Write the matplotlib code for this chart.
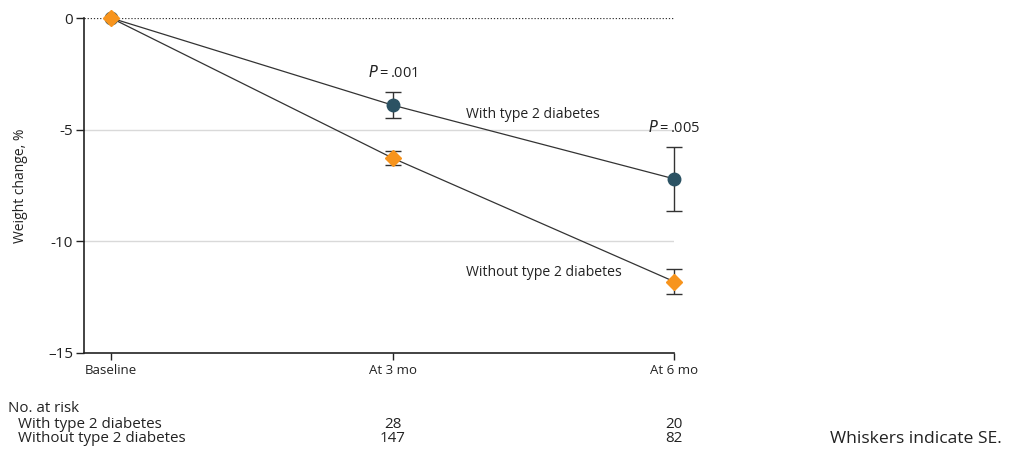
import matplotlib
matplotlib.use("Agg")
import matplotlib.pyplot as plt

plt.rcParams['font.family'] = ['Open Sans', 'DejaVu Sans']

timepoints = ["Baseline", "At 3 mo", "At 6 mo"]
with_t2d_mean = [0.0, -3.9, -7.2]
with_t2d_se = [0.0, 0.58, 1.43]
without_t2d_mean = [0.0, -6.27, -11.8]
without_t2d_se = [0.0, 0.31, 0.56]
p_labels = ["", ".001", ".005"]
risk_with = ["", "28", "20"]
risk_without = ["", "147", "82"]
ytick_vals = [0, -5, -10, -15]
ytick_labels = ["0", "-5", "-10", "\u201315"]

W, H = 1011, 453
fig = plt.figure(figsize=(W / 100, H / 100), dpi=100)
ax = fig.add_axes([84 / W, 1 - 353 / H, (674 - 84) / W, (353 - 18) / H])

x = list(range(len(timepoints)))
teal = "#2b5263"
orange = "#f7941d"
ink = "#333333"
txt = "#222222"

for v in [-5, -10]:
    ax.axhline(v, color="#d9d9d9", lw=1, zorder=0)
ax.axhline(0, color=ink, lw=0.9, ls=(0, (1, 1.5)), zorder=0)

ax.plot(x, with_t2d_mean, color=ink, lw=0.9, zorder=2, clip_on=False)
ax.plot(x, without_t2d_mean, color=ink, lw=0.9, zorder=2, clip_on=False)
for m, s in ((with_t2d_mean, with_t2d_se), (without_t2d_mean, without_t2d_se)):
    eb = ax.errorbar(x[1:], m[1:], yerr=s[1:], fmt="none",
                     ecolor=ink, elinewidth=1, capsize=6, capthick=1, zorder=3)
    for art in eb.lines[1] + eb.lines[2]:
        art.set_clip_on(False)
ax.plot(x, with_t2d_mean, "o", color=teal, ms=9, mec=teal, zorder=4, ls="none",
        clip_on=False)
ax.plot(x, without_t2d_mean, "D", color=orange, ms=8, mec=orange, zorder=5, ls="none",
        clip_on=False)

ax.set_xlim(-0.096, 2.0)
ax.set_ylim(-15, 0)
ax.set_xticks(x)
ax.set_xticklabels(timepoints, fontsize=9.5, color=txt)
ax.set_yticks(ytick_vals)
ax.set_yticklabels(ytick_labels, fontsize=11, color=txt)
ax.tick_params(axis="x", length=5, width=1, color=txt, pad=3)
ax.tick_params(axis="y", length=6, width=1, color=txt, pad=2)
for s in ["top", "right"]:
    ax.spines[s].set_visible(False)
for s in ["left", "bottom"]:
    ax.spines[s].set_color(txt)
    ax.spines[s].set_linewidth(1.2)
ax.set_ylabel("Weight change, %", fontsize=10, color=txt, labelpad=14)
ax.patch.set_alpha(0)

for i in (1, 2):
    yv = with_t2d_mean[i] + with_t2d_se[i]
    ax.annotate("$P$" + "\u2009=\u2009" + p_labels[i], (x[i], yv), xytext=(0, 8),
                textcoords="offset points", ha="center", va="bottom",
                fontsize=10.5, color=txt, annotation_clip=False)

ax.text(1.26, -4.3, "With type 2 diabetes", fontsize=10.1, color=txt,
        ha="left", va="center")
ax.text(1.26, -11.4, "Without type 2 diabetes", fontsize=10.1, color=txt,
        ha="left", va="center")

def fx(xd):
    return ax.transData.transform((xd, 0))[0] / W

fs_tab = 10.9
fig.text(8 / W, 1 - 408 / H, "No. at risk", fontsize=fs_tab, color=txt, va="center")
fig.text(18 / W, 1 - 424 / H, "With type 2 diabetes", fontsize=fs_tab, color=txt, va="center")
fig.text(18 / W, 1 - 439 / H, "Without type 2 diabetes", fontsize=fs_tab, color=txt, va="center")
for i in (1, 2):
    fig.text(fx(x[i]), 1 - 424 / H, risk_with[i], fontsize=fs_tab, color=txt,
             ha="center", va="center")
    fig.text(fx(x[i]), 1 - 439 / H, risk_without[i], fontsize=fs_tab, color=txt,
             ha="center", va="center")
fig.text(830 / W, 1 - 439 / H, "Whiskers indicate SE.", fontsize=12.6, color=txt,
         va="center")

fig.savefig("out.png", dpi=100)
